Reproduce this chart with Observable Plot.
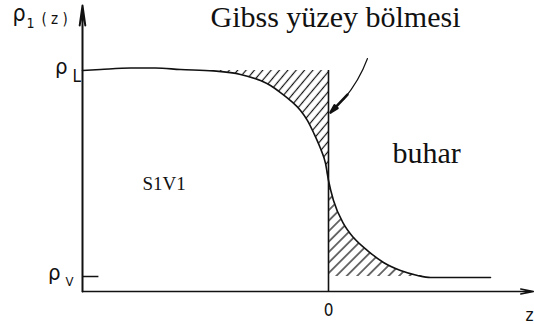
<!DOCTYPE html>
<html>
<head>
<meta charset="utf-8">
<script src="https://cdn.jsdelivr.net/npm/d3@7"></script>
<script src="https://cdn.jsdelivr.net/npm/@observablehq/plot@0.6"></script>
<style>
  html, body { margin: 0; padding: 0; background: #fff; }
  #chart svg { display: block; }
</style>
</head>
<body>
<div id="chart"></div>
<script>
// Density profile ρ1(z) across a liquid–vapour interface,
// expressed in units where ρV = 0 and ρL = 1; z = 0 is the Gibbs dividing surface.
const zValues   = [-6.000, -5.561, -4.829, -4.220, -3.610, -2.805, -2.146, -1.659, -1.415, -1.171,
                   -0.927, -0.683, -0.512, -0.366, -0.195, -0.073, 0.000, 0.122, 0.366, 0.610,
                   0.951, 1.341, 1.756, 2.171, 2.488, 3.220, 3.951];
const rhoValues = [1.000, 1.005, 1.012, 1.012, 1.005, 0.998, 0.981, 0.951, 0.927, 0.893,
                   0.854, 0.806, 0.757, 0.699, 0.621, 0.549, 0.466, 0.369, 0.257, 0.189,
                   0.126, 0.068, 0.029, 0.005, -0.005, -0.005, -0.005];

const yTicks = [1, 0];            // ρL, ρV
const yTickSubs = ["L", "V"];
const xTicks = [0];
const xTickLabels = ["0"];
const yAxisTitle = ["ρ", "1", "( z )"];
const xAxisTitle = "z";
const titleText = "Gibss yüzey bölmesi";
const liquidLabel = "S1V1";
const vapourLabel = "buhar";

const profile = zValues.map((z, i) => ({z, rho: rhoValues[i]}));
const liquidExcess = profile.filter(d => d.z >= -2.81 && d.z <= 0);
const vapourExcess = profile.filter(d => d.z >= 0 && d.z <= 2.49);

const ink = "#111";
const yMin = -0.0728, yMax = 1.301;
const sans = "DejaVu Sans Condensed, DejaVu Sans, sans-serif";
const serif = "Liberation Serif, Times New Roman, serif";

const svg = Plot.plot({
  width: 534,
  height: 324,
  marginLeft: 82,
  marginRight: 1,
  marginTop: 8,
  marginBottom: 33,
  x: {domain: [-6, 5], axis: null},
  y: {domain: [yMin, yMax], axis: null},
  style: {background: "#fff", overflow: "visible"},
  marks: [
    // hatched excess areas on either side of the dividing surface
    Plot.areaY(liquidExcess, {x: "z", y1: d => Math.min(d.rho, 1), y2: yTicks[0], curve: "monotone-x", fill: "url(#hatchL)"}),
    Plot.areaY(vapourExcess, {x: "z", y1: yTicks[1], y2: d => Math.max(d.rho, 0), curve: "monotone-x", fill: "url(#hatchR)"}),
    // density profile
    Plot.line(profile, {x: "z", y: "rho", curve: "monotone-x", stroke: ink, strokeWidth: 1.6}),
    // dividing surface
    Plot.ruleX(xTicks, {y1: yMin, y2: yTicks[0], stroke: ink, strokeWidth: 1.6}),
    // ρV tick
    Plot.ruleY([yTicks[1]], {x1: -6, x2: -5.6, stroke: ink, strokeWidth: 1.5}),
    // axes with arrowheads
    Plot.arrow([0], {x1: -6, y1: yMin, x2: -6, y2: 1.315, stroke: ink, strokeWidth: 2, headLength: 15, headAngle: 16}),
    Plot.arrow([0], {x1: -6, y1: yMin, x2: 5.0, y2: yMin, stroke: ink, strokeWidth: 1.5, headLength: 13, headAngle: 22}),
    // pointer to the dividing surface: curved shaft and a heavy head
    Plot.arrow([0], {x1: 0.951, y1: 1.058, x2: 0.366, y2: 0.859, bend: 10, stroke: ink, strokeWidth: 1.2, headLength: 0}),
    Plot.arrow([0], {x1: 0.463, y1: 0.883, x2: 0.049, y2: 0.796, stroke: ink, strokeWidth: 2.6, headLength: 5, headAngle: 28}),
    // y tick labels
    Plot.text(["ρ"], {x: -6.366, y: 0.981, text: d => d, textAnchor: "end", lineAnchor: "bottom", fontFamily: sans, fontSize: 22, fill: ink}),
    Plot.text([yTickSubs[0]], {x: -6.244, y: 0.942, text: d => d, textAnchor: "start", lineAnchor: "bottom", fontFamily: sans, fontSize: 17, fill: ink}),
    Plot.text(["ρ"], {x: -6.537, y: -0.0194, text: d => d, textAnchor: "end", lineAnchor: "bottom", fontFamily: sans, fontSize: 22, fill: ink}),
    Plot.text([yTickSubs[1]], {x: -6.415, y: -0.0437, text: d => d, textAnchor: "start", lineAnchor: "bottom", fontFamily: sans, fontSize: 13, fill: ink}),
    // y axis title ρ1(z)
    Plot.text([yAxisTitle[0]], {x: -7.707, y: 1.2427, text: d => d, textAnchor: "start", lineAnchor: "bottom", fontFamily: sans, fontSize: 23, fill: ink}),
    Plot.text([yAxisTitle[1]], {x: -7.366, y: 1.2087, text: d => d, textAnchor: "start", lineAnchor: "bottom", fontFamily: sans, fontSize: 14, fill: ink}),
    Plot.text([yAxisTitle[2]], {x: -7.0, y: 1.228, text: d => d, textAnchor: "start", lineAnchor: "bottom", fontFamily: sans, fontSize: 15, fill: ink}),
    // x tick label and axis title
    Plot.text(xTicks, {x: d => d, y: -0.194, text: (d, i) => xTickLabels[i], textAnchor: "middle", lineAnchor: "bottom", fontFamily: sans, fontSize: 17, fill: ink}),
    Plot.text([xAxisTitle], {x: 4.902, y: -0.2136, text: d => d, textAnchor: "middle", lineAnchor: "bottom", fontFamily: sans, fontSize: 17, fill: ink}),
    // annotations
    Plot.text([titleText], {x: -2.878, y: 1.209, text: d => d, textAnchor: "start", lineAnchor: "bottom", fontFamily: serif, fontSize: 30, fill: ink}),
    Plot.text([vapourLabel], {x: 1.561, y: 0.5534, text: d => d, textAnchor: "start", lineAnchor: "bottom", fontFamily: serif, fontSize: 30, fill: ink}),
    Plot.text([liquidLabel], {x: -4.537, y: 0.4223, text: d => d, textAnchor: "start", lineAnchor: "bottom", fontFamily: serif, fontSize: 19, fill: ink})
  ]
});

// diagonal hatch patterns used by the excess areas
const defs = d3.select(svg).insert("defs", ":first-child");
function hatch(id, angle, gap) {
  const p = defs.append("pattern")
    .attr("id", id)
    .attr("patternUnits", "userSpaceOnUse")
    .attr("width", gap)
    .attr("height", 20)
    .attr("patternTransform", `rotate(${angle})`);
  p.append("line")
    .attr("x1", gap / 2).attr("x2", gap / 2)
    .attr("y1", 0).attr("y2", 20)
    .attr("stroke", ink)
    .attr("stroke-width", 1.2);
}
hatch("hatchL", 40, 6.4);
hatch("hatchR", 45, 7.4);

document.getElementById("chart").appendChild(svg);
</script>
</body>
</html>
